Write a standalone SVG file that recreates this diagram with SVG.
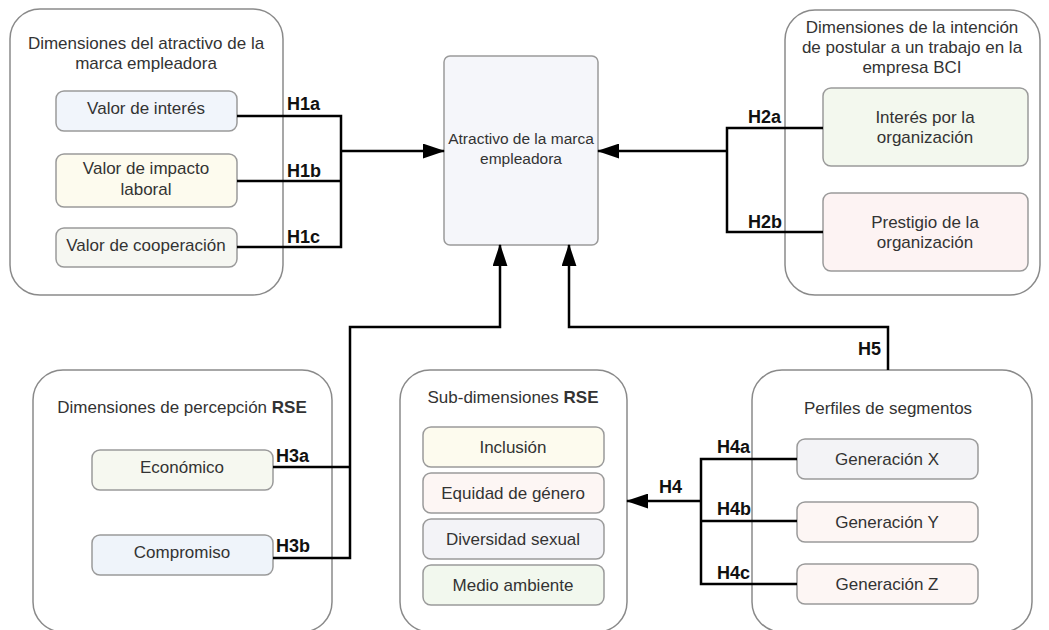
<svg xmlns="http://www.w3.org/2000/svg" width="1049" height="630" viewBox="0 0 1049 630">
<defs>
<style>
.cont{fill:#ffffff;stroke:#8a8a8a;stroke-width:1.5}
.box{stroke:#9a9a9a;stroke-width:1.5}
.t{font-family:"Liberation Sans",Arial,sans-serif;font-size:17px;fill:#333333;text-anchor:middle}
.c{font-size:15.5px}
.h{font-family:"Liberation Sans",Arial,sans-serif;font-size:18px;font-weight:bold;fill:#111111}
.b{font-weight:bold}
.ln{fill:none;stroke:#000000;stroke-width:2.5}
</style>
<marker id="arr" markerWidth="9" markerHeight="6" refX="8.5" refY="3" orient="auto" markerUnits="strokeWidth">
<path d="M0,0 L9,3 L0,6 z" fill="#000000"/>
</marker>
</defs>
<rect width="1049" height="630" fill="#ffffff"/>

<g id="g1">
<rect class="cont" x="10" y="9" width="273" height="286" rx="30"/>
<text class="t" x="146" y="49">Dimensiones del atractivo de la</text>
<text class="t" x="146" y="69">marca empleadora</text>
</g>
<g id="valor-interes">
<rect class="box" x="56" y="91" width="181" height="40" rx="8" fill="#f1f5fb"/>
<text class="t" x="146" y="114">Valor de interés</text>
</g>
<g id="valor-impacto">
<rect class="box" x="56" y="154" width="181" height="53" rx="8" fill="#fdfbee"/>
<text class="t" x="146" y="174">Valor de impacto</text>
<text class="t" x="146" y="195">laboral</text>
</g>
<g id="valor-cooperacion">
<rect class="box" x="56" y="228" width="181" height="39" rx="8" fill="#f6f7f2"/>
<text class="t" x="146" y="251">Valor de cooperación</text>
</g>

<g id="central">
<rect class="box" x="444" y="56" width="154" height="189" rx="6" fill="#f5f6fa"/>
<text class="t c" x="521" y="144">Atractivo de la marca</text>
<text class="t c" x="521" y="164">empleadora</text>
</g>

<g id="g2">
<rect class="cont" x="785" y="10" width="255" height="285" rx="30"/>
<text class="t" x="912" y="33">Dimensiones de la intención</text>
<text class="t" x="912" y="53">de postular a un trabajo en la</text>
<text class="t" x="912" y="73">empresa BCI</text>
</g>
<g id="interes-org">
<rect class="box" x="823" y="88" width="205" height="78" rx="8" fill="#f3f8ee"/>
<text class="t" x="925" y="123">Interés por la</text>
<text class="t" x="925" y="143">organización</text>
</g>
<g id="prestigio-org">
<rect class="box" x="823" y="193" width="205" height="78" rx="8" fill="#fdf3f3"/>
<text class="t" x="925" y="228">Prestigio de la</text>
<text class="t" x="925" y="248">organización</text>
</g>

<g id="g3">
<rect class="cont" x="33" y="370" width="299" height="262" rx="30"/>
<text class="t" x="182" y="413">Dimensiones de percepción <tspan class="b">RSE</tspan></text>
</g>
<g id="economico">
<rect class="box" x="92" y="450" width="181" height="40" rx="8" fill="#f6f8f0"/>
<text class="t" x="182" y="473">Económico</text>
</g>
<g id="compromiso">
<rect class="box" x="92" y="535" width="181" height="40" rx="8" fill="#eff4fa"/>
<text class="t" x="182" y="558">Compromiso</text>
</g>

<g id="g4">
<rect class="cont" x="400" y="370" width="227" height="262" rx="30"/>
<text class="t" x="513" y="403">Sub-dimensiones <tspan class="b">RSE</tspan></text>
</g>
<g id="inclusion">
<rect class="box" x="423" y="427" width="181" height="40" rx="8" fill="#fdfbee"/>
<text class="t" x="513" y="453">Inclusión</text>
</g>
<g id="equidad">
<rect class="box" x="423" y="473" width="181" height="40" rx="8" fill="#fdf6f4"/>
<text class="t" x="513" y="499">Equidad de género</text>
</g>
<g id="diversidad">
<rect class="box" x="423" y="519" width="181" height="40" rx="8" fill="#f3f3f7"/>
<text class="t" x="513" y="545">Diversidad sexual</text>
</g>
<g id="medio">
<rect class="box" x="423" y="565" width="181" height="40" rx="8" fill="#f2f8ee"/>
<text class="t" x="513" y="591">Medio ambiente</text>
</g>

<g id="g5">
<rect class="cont" x="752" y="370" width="280" height="262" rx="30"/>
<text class="t" x="888" y="414">Perfiles de segmentos</text>
</g>
<g id="gen-x">
<rect class="box" x="797" y="439" width="181" height="40" rx="8" fill="#f3f3f6"/>
<text class="t" x="887" y="465">Generación X</text>
</g>
<g id="gen-y">
<rect class="box" x="797" y="502" width="181" height="40" rx="8" fill="#fdf6f4"/>
<text class="t" x="887" y="528">Generación Y</text>
</g>
<g id="gen-z">
<rect class="box" x="797" y="564" width="181" height="40" rx="8" fill="#fdf6f4"/>
<text class="t" x="887" y="590">Generación Z</text>
</g>

<g id="connectors">
<polyline class="ln" points="237,116 341,116 341,247 237,247"/>
<line class="ln" x1="237" y1="181" x2="341" y2="181"/>
<line class="ln" x1="341" y1="151" x2="444" y2="151" marker-end="url(#arr)"/>

<polyline class="ln" points="823,128 727,128 727,232 823,232"/>
<line class="ln" x1="727" y1="151" x2="598" y2="151" marker-end="url(#arr)"/>

<polyline class="ln" points="273,467 350,467"/>
<polyline class="ln" points="273,558 350,558 350,327 500,327 500,245" marker-end="url(#arr)"/>

<polyline class="ln" points="888,370 888,327 569,327 569,245" marker-end="url(#arr)"/>

<polyline class="ln" points="797,459 701,459 701,584 797,584"/>
<line class="ln" x1="701" y1="521" x2="797" y2="521"/>
<line class="ln" x1="701" y1="501" x2="627" y2="501" marker-end="url(#arr)"/>

<text class="h" x="287" y="110">H1a</text>
<text class="h" x="287" y="177">H1b</text>
<text class="h" x="287" y="243">H1c</text>
<text class="h" x="748" y="123">H2a</text>
<text class="h" x="748" y="228">H2b</text>
<text class="h" x="276" y="462">H3a</text>
<text class="h" x="276" y="552">H3b</text>
<text class="h" x="659" y="493">H4</text>
<text class="h" x="717" y="453">H4a</text>
<text class="h" x="717" y="515">H4b</text>
<text class="h" x="717" y="579">H4c</text>
<text class="h" x="858" y="355">H5</text>
</g>
</svg>
